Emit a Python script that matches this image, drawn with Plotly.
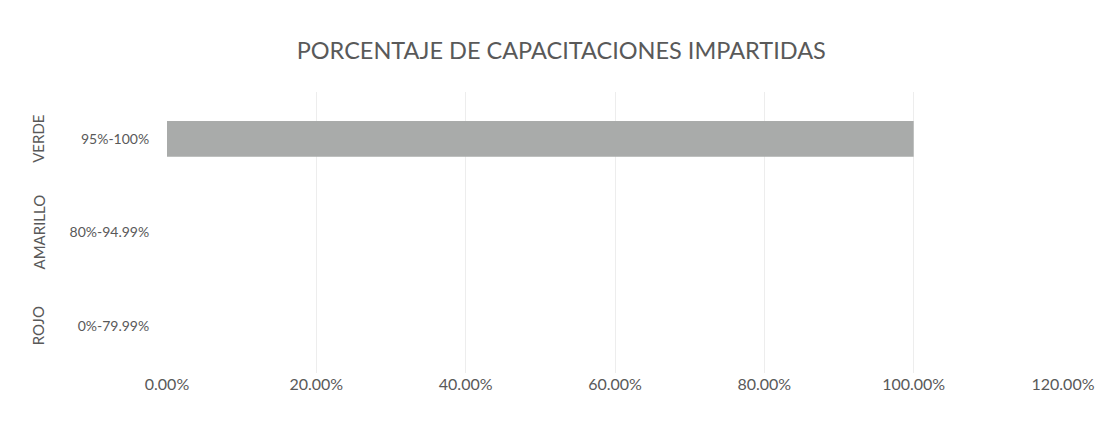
import plotly.graph_objects as go

title = "PORCENTAJE DE CAPACITACIONES IMPARTIDAS"
groups = ["ROJO", "AMARILLO", "VERDE"]
ranges = ["0%-79.99%", "80%-94.99%", "95%-100%"]
values = [None, None, 1.00]
x_ticks = [0, 0.2, 0.4, 0.6, 0.8, 1.0, 1.2]

font_family = "Lato, 'Open Sans', sans-serif"
text_color = "#595959"

fig = go.Figure()
fig.add_trace(go.Bar(
    x=values, y=ranges, orientation="h",
    marker=dict(color="#A9ABAA", line=dict(width=0)),
    width=0.38, showlegend=False, hoverinfo="skip",
))

for g, r in zip(groups, ranges):
    fig.add_annotation(
        x=0, xref="paper", xanchor="center", xshift=-129, y=r, yref="y",
        text=g, textangle=-90, showarrow=False,
        font=dict(family=font_family, size=15, color=text_color),
    )

fig.update_layout(
    width=1107, height=427,
    paper_bgcolor="white", plot_bgcolor="white",
    margin=dict(l=167, r=42, t=92, b=54),
    title=dict(text=title, x=0.507, xanchor="center", y=0.882, yanchor="middle",
               font=dict(family=font_family, size=23.5, color=text_color)),
    font=dict(family=font_family, color=text_color),
    xaxis=dict(range=[0, 1.2], tickvals=x_ticks, tickformat=".2%",
               showgrid=True, gridcolor="#EDEDED", gridwidth=1,
               zeroline=False, showline=False,
               tickfont=dict(size=16, color=text_color)),
    yaxis=dict(categoryorder="array", categoryarray=ranges,
               showgrid=False, zeroline=False, showline=False,
               ticks="outside", ticklen=14, tickcolor="white",
               tickfont=dict(size=14, color=text_color)),
)

fig.write_html("out.html", config={"displayModeBar": False},
               post_script="document.body.style.margin='0px';")
